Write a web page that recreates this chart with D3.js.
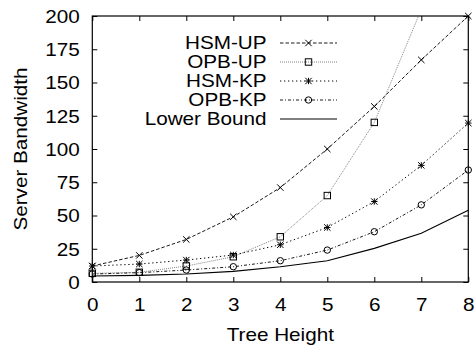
<!DOCTYPE html>
<html>
<head>
<meta charset="utf-8">
<script src="https://cdn.jsdelivr.net/npm/d3@7"></script>
<style>
  html, body { margin: 0; padding: 0; background: #fff; }
  svg { display: block; }
  text { font-family: "Liberation Sans", Arial, Helvetica, sans-serif; fill: #000; }
</style>
</head>
<body>
<svg id="chart" width="475" height="345"></svg>
<script>
// Tree heights on the x axis
const heights = [0, 1, 2, 3, 4, 5, 6, 7, 8];
const yTicks = [0, 25, 50, 75, 100, 125, 150, 175, 200];

// Server bandwidth per scheme
const hsmUP = [12, 20, 32, 49, 71, 100, 132, 167, 200];
const opbUP = [6.5, 7.3, 12, 19, 34, 65, 120, 205];
const hsmKP = [12, 13.5, 16.5, 20.3, 28, 41, 60.5, 87.7, 119.5];
const opbKP = [6, 7, 9, 11.5, 16, 24, 37.8, 58, 84.2];
const lowerBound = [4.5, 5, 6, 8, 11.5, 16, 25.3, 36.6, 54];

const seriesNames = ["HSM-UP", "OPB-UP", "HSM-KP", "OPB-KP", "Lower Bound"];

const series = [
  { name: seriesNames[0], values: hsmUP, dash: "3.5,2", color: "#000", width: 0.9, marker: "cross" },
  { name: seriesNames[1], values: opbUP, dash: "1,1", color: "#777", width: 0.9, marker: "square" },
  { name: seriesNames[2], values: hsmKP, dash: "1.3,2.7", color: "#000", width: 1, marker: "star" },
  { name: seriesNames[3], values: opbKP, dash: "3,2,1,2", color: "#000", width: 0.9, marker: "circle" },
  { name: seriesNames[4], values: lowerBound, dash: null, color: "#000", width: 1.1, marker: null }
];

const FONT_SIZE = 18;
const WIDEN = 1.15; // horizontal stretch of the label face

const svg = d3.select("#chart");
const m = { left: 92.3, right: 468.3, top: 16, bottom: 282 };

const x = d3.scaleLinear().domain([0, 8]).range([m.left, m.right]);
const y = d3.scaleLinear().domain([0, 200]).range([m.bottom, m.top]);

svg.append("defs").append("clipPath").attr("id", "plotClip")
  .append("rect")
  .attr("x", m.left).attr("y", m.top)
  .attr("width", m.right - m.left).attr("height", m.bottom - m.top);

const tickLen = 5;

// Axes with inward ticks (mirrored on top and right)
const axisBottom = d3.axisBottom(x).tickValues(heights).tickSize(-tickLen).tickFormat(d3.format("d"));
const axisTop = d3.axisTop(x).tickValues(heights).tickSize(-tickLen).tickFormat("");
const axisLeft = d3.axisLeft(y).tickValues(yTicks).tickSize(-tickLen).tickFormat(d3.format("d"));
const axisRight = d3.axisRight(y).tickValues(yTicks).tickSize(-tickLen).tickFormat("");

function styleAxis(g) {
  g.select(".domain").remove();
  g.selectAll(".tick line").attr("stroke", "#000").attr("stroke-width", 1);
  g.selectAll(".tick text").attr("font-size", FONT_SIZE)
    .style("font-family", '"Liberation Sans", Arial, Helvetica, sans-serif').attr("fill", "#000");
}

svg.append("g").attr("transform", `translate(0,${m.bottom})`).call(axisBottom).call(styleAxis)
  .selectAll(".tick text")
  .attr("x", 0).attr("y", 29).attr("dy", null)
  .attr("transform", `scale(${WIDEN},1)`);
svg.append("g").attr("transform", `translate(0,${m.top})`).call(axisTop).call(styleAxis);
svg.append("g").attr("transform", `translate(${m.left},0)`).call(axisLeft).call(styleAxis)
  .selectAll(".tick text")
  .attr("x", -12.5 / WIDEN).attr("dy", "0.36em")
  .attr("transform", `scale(${WIDEN},1)`);
svg.append("g").attr("transform", `translate(${m.right},0)`).call(axisRight).call(styleAxis);

// Frame
svg.append("rect")
  .attr("x", m.left).attr("y", m.top)
  .attr("width", m.right - m.left).attr("height", m.bottom - m.top)
  .attr("fill", "none").attr("stroke", "#000").attr("stroke-width", 1.2);

// Axis titles
svg.append("text")
  .attr("transform", `translate(${(m.left + m.right) / 2},341) scale(${WIDEN},1)`)
  .attr("text-anchor", "middle").attr("font-size", FONT_SIZE)
  .text("Tree Height");
svg.append("text")
  .attr("transform", `translate(27,${(m.top + m.bottom) / 2}) rotate(-90) scale(${WIDEN},1)`)
  .attr("text-anchor", "middle").attr("font-size", FONT_SIZE)
  .text("Server Bandwidth");

// Marker drawing
function drawMarker(g, type, cx, cy) {
  const s = 3.2;
  if (type === "cross") {
    g.append("path").attr("d", `M${cx - s},${cy - s}L${cx + s},${cy + s}M${cx - s},${cy + s}L${cx + s},${cy - s}`)
      .attr("stroke", "#000").attr("stroke-width", 1).attr("fill", "none");
  } else if (type === "square") {
    g.append("rect").attr("x", cx - s).attr("y", cy - s).attr("width", 2 * s).attr("height", 2 * s)
      .attr("stroke", "#000").attr("stroke-width", 1).attr("fill", "none");
  } else if (type === "star") {
    g.append("path").attr("d",
      `M${cx - s},${cy - s}L${cx + s},${cy + s}M${cx - s},${cy + s}L${cx + s},${cy - s}` +
      `M${cx - s},${cy}L${cx + s},${cy}M${cx},${cy - s}L${cx},${cy + s}`)
      .attr("stroke", "#000").attr("stroke-width", 1).attr("fill", "none");
  } else if (type === "circle") {
    g.append("circle").attr("cx", cx).attr("cy", cy).attr("r", s)
      .attr("stroke", "#000").attr("stroke-width", 1).attr("fill", "none");
  }
}

const line = d3.line().x((d, i) => x(heights[i])).y(d => y(d));

const plot = svg.append("g").attr("clip-path", "url(#plotClip)");
series.forEach(s => {
  plot.append("path")
    .datum(s.values)
    .attr("d", line)
    .attr("fill", "none")
    .attr("stroke", s.color)
    .attr("stroke-width", s.width)
    .attr("stroke-dasharray", s.dash);
});

const marks = svg.append("g");
series.forEach(s => {
  if (!s.marker) return;
  s.values.forEach((v, i) => {
    if (v > 200) return;
    drawMarker(marks, s.marker, x(heights[i]), y(v));
  });
});

// Legend
const legend = svg.append("g");
const legendRowY = [43, 62, 81, 100, 119];
series.forEach((s, i) => {
  const ly = legendRowY[i];
  legend.append("text")
    .attr("transform", `translate(266.5,${ly}) scale(${WIDEN},1)`)
    .attr("dy", "0.36em")
    .attr("text-anchor", "end").attr("font-size", FONT_SIZE)
    .text(s.name);
  legend.append("line")
    .attr("x1", 280).attr("x2", 337).attr("y1", ly).attr("y2", ly)
    .attr("stroke", s.color).attr("stroke-width", s.width)
    .attr("stroke-dasharray", s.dash);
  if (s.marker) drawMarker(legend, s.marker, 308.5, ly);
});
</script>
</body>
</html>
